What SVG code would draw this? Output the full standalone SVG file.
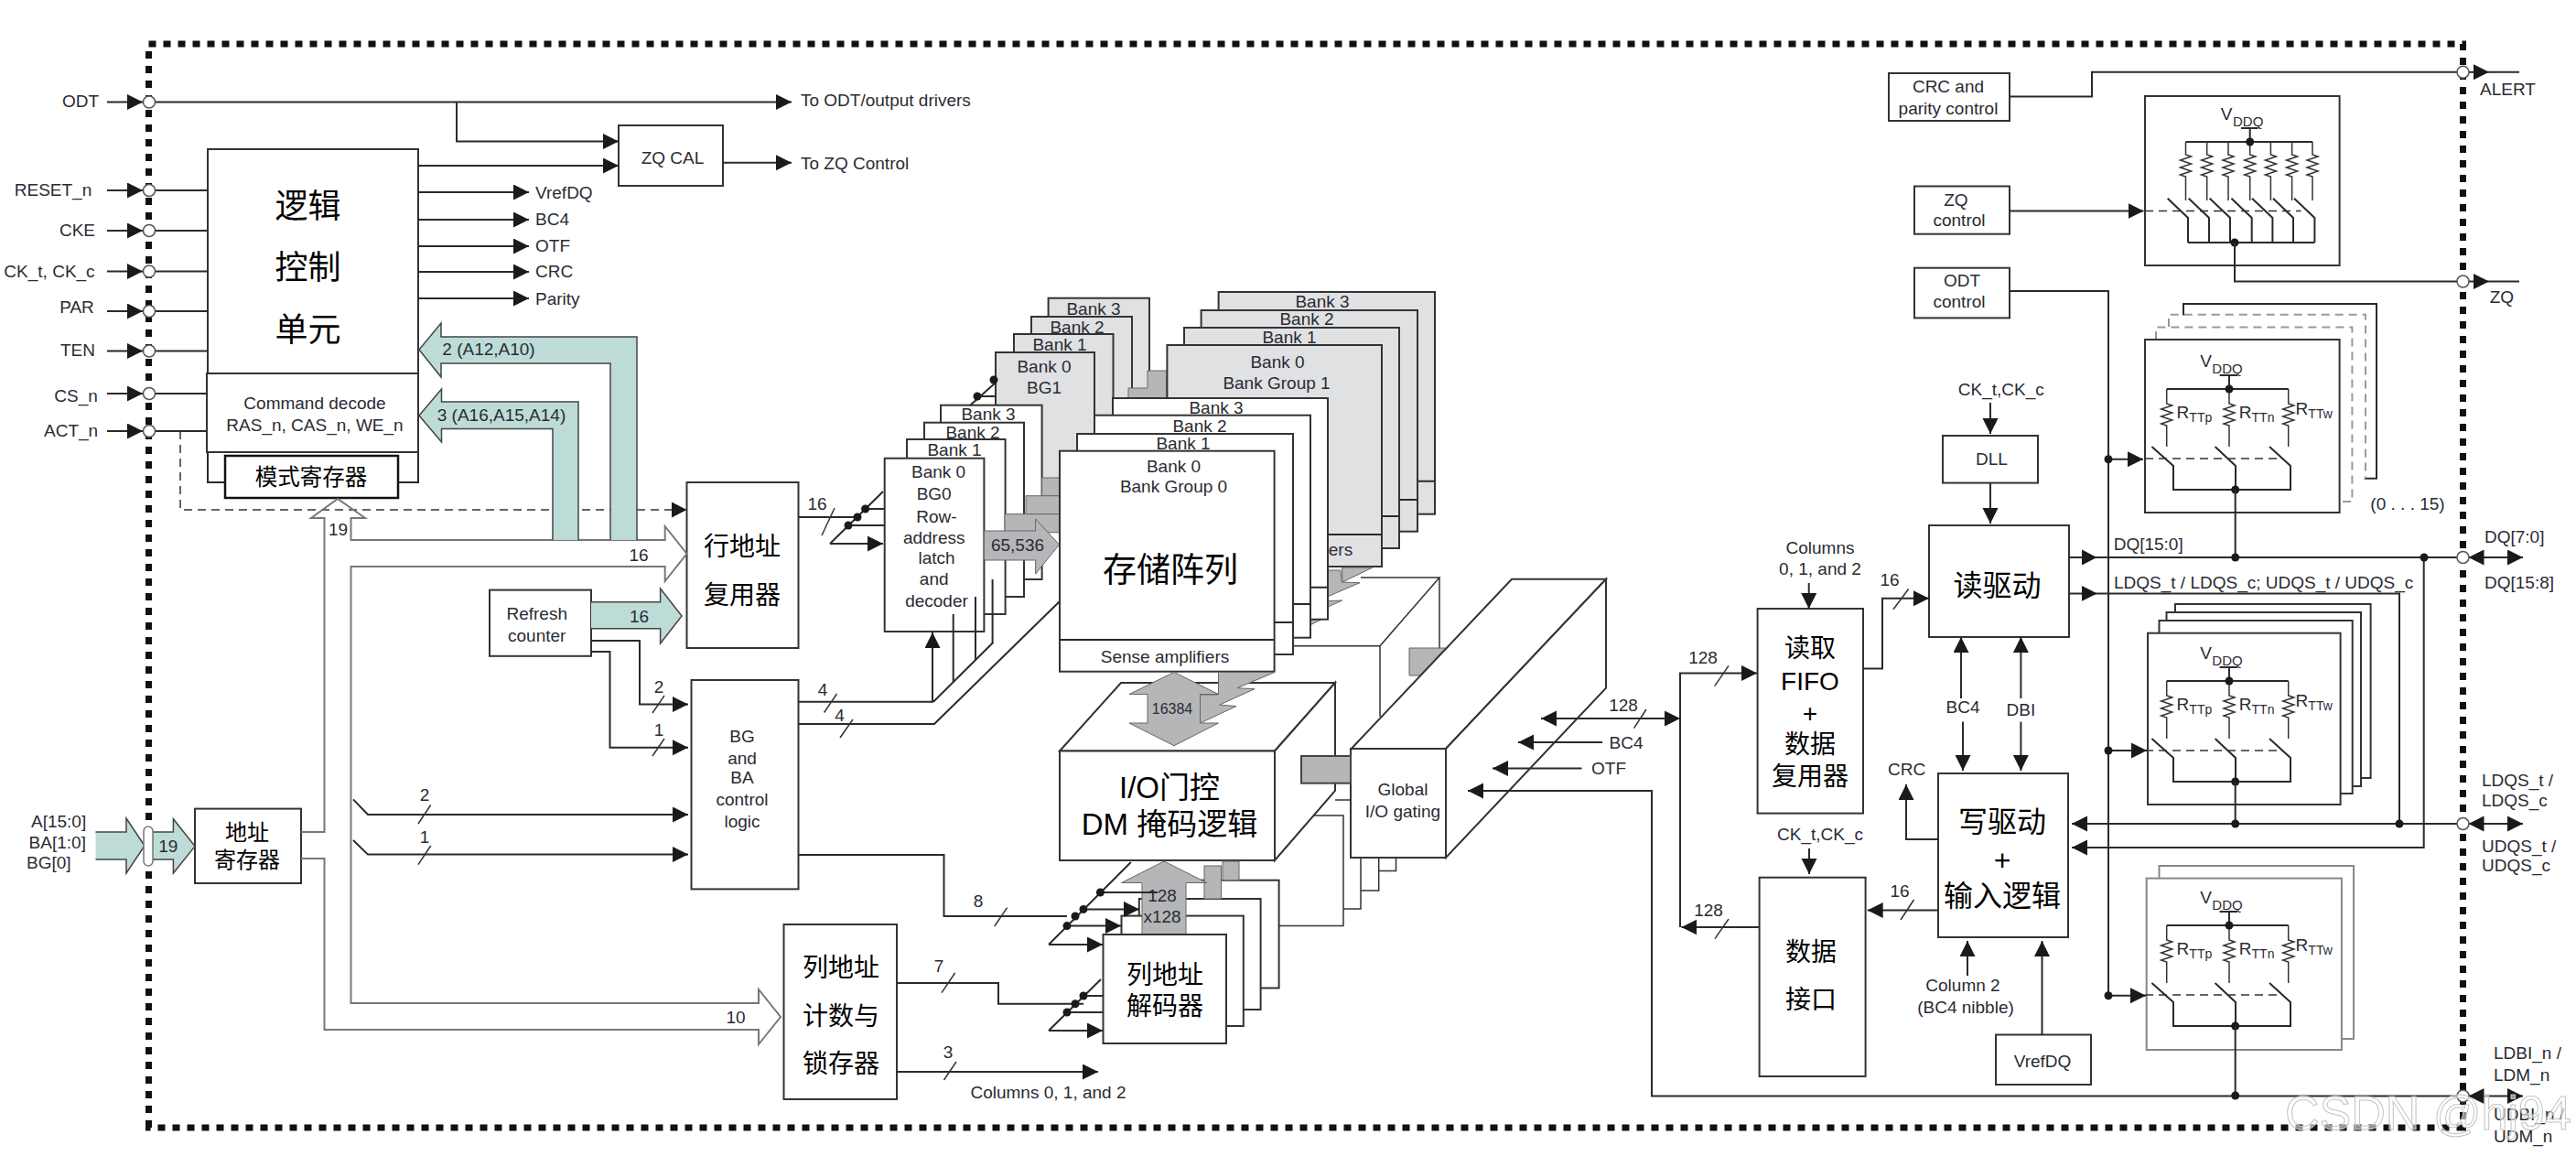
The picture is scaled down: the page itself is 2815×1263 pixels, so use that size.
<svg xmlns="http://www.w3.org/2000/svg" xmlns:xlink="http://www.w3.org/1999/xlink" width="2815" height="1263" viewBox="0 0 2815 1263">
<style>
text{font-family:"Liberation Sans","Noto Sans CJK SC",sans-serif;font-size:19px;fill:#2b2b33;dominant-baseline:central;text-anchor:middle}
.s{text-anchor:start}
.cn{fill:#000}
.c24{font-size:24.5px;fill:#000}
.c28{font-size:28px;fill:#000}
.c32{font-size:32px;fill:#000}
.c36{font-size:36px;fill:#000}
.n{fill:#fff;stroke:#333;stroke-width:2}
.g{fill:#e0e1e3;stroke:#333;stroke-width:2}
.k{fill:#b5b6b8;stroke:#666;stroke-width:1}
.l{fill:none;stroke:#2a2a2a;stroke-width:2}
.h{fill:none;stroke:#777;stroke-width:2}
.t{fill:none;stroke:#333;stroke-width:1.5}
.d{fill:none;stroke:#333;stroke-width:1.5;stroke-dasharray:9 6}
.da{fill:none;stroke:#999;stroke-width:2;stroke-dasharray:9 6}
.ar{marker-end:url(#a)}
.ar2{marker-end:url(#a);marker-start:url(#a)}
.green{fill:#bddcd8;stroke:#444;stroke-width:1.5}
.dot{fill:#1a1a1a}
.pin{fill:#fff;stroke:#555;stroke-width:1.5}
</style>
<defs>
<marker id="a" markerUnits="userSpaceOnUse" markerWidth="18" markerHeight="18" refX="17" refY="8.5" orient="auto-start-reverse"><path d="M0,0L17,8.5L0,17Z" fill="#1a1a1a"/></marker>
<path id="rz" d="M0,0V14l6,2l-12,4l12,4l-12,4l12,4l-12,4l6,2V64" class="t"/>
<path id="ro" d="M0,0V16l6,2l-12,4l12,4l-12,4l12,4l-12,4l6,2V63" class="t"/>
<g id="term">
<path class="l" d="M2425.6,410H2445M2436,410V425M2367.7,425H2500.7"/>
<use href="#ro" x="2367.7" y="425"/><use href="#ro" x="2436" y="425"/><use href="#ro" x="2500.7" y="425"/>
<path class="l" d="M2351.4,488L2375,509V535H2503V509L2480,488M2420.6,488L2443,509V535"/>
<path class="d" d="M2344,501H2492"/>
<circle class="dot" cx="2436" cy="425" r="4.5"/><circle class="dot" cx="2442.7" cy="535" r="4.5"/>
</g>
</defs>
<rect width="2815" height="1263" fill="#fff"/>
<g id="chip-boundary"><path d="M162.5,1232V48H2691.5V1232Z" fill="none" stroke="#111" stroke-width="7" stroke-dasharray="8 8"/></g>

<g id="io-gating-rear">
<path class="t" d="M1487,631H1573L1508,705.7M1400,705.7H1508V783M1573,631V708"/>
<path class="k" d="M1540,708H1580L1552,738H1540Z"/>
</g>
<g id="global-gating">
<path class="n" d="M1476.7,818L1652,632.7H1755L1580,818Z"/>
<path class="n" d="M1580,818L1755,632.7V751.7L1580,937Z"/>
<path class="t" d="M1487,937V993H1468M1506.7,937V973H1487M1525.5,937V951.4H1506.7"/>
<rect class="n" x="1476" y="818" width="104" height="119"/>
<text x="1533" y="862.5">Global</text><text x="1533" y="886">I/O gating</text>
</g>
<g id="bg1-latches">
<rect class="g" x="1145.6" y="325.7" width="110.4" height="205"/><text x="1195" y="337">Bank 3</text>
<rect class="g" x="1127" y="346" width="110" height="185"/><text x="1177" y="357">Bank 2</text>
<rect class="g" x="1108" y="365" width="108.5" height="165"/><text x="1158" y="376">Bank 1</text>
<rect class="g" x="1088" y="385" width="108" height="145"/><text x="1141" y="400">Bank 0</text><text x="1141" y="423">BG1</text>
</g>
<g id="bg1-shadow"><path class="k" d="M1254,405H1275V435H1233V424H1254Z"/></g>
<g id="bg1-arrays">
<rect class="g" x="1331.6" y="319" width="236.4" height="242.7"/><path class="l" d="M1331.6,525.7H1568"/><text x="1445" y="329">Bank 3</text>
<rect class="g" x="1312.6" y="339" width="236.4" height="241.7"/><path class="l" d="M1312.6,546H1549"/><text x="1428" y="348">Bank 2</text>
<rect class="g" x="1294" y="358" width="235" height="241"/><path class="l" d="M1294,564H1529"/><text x="1409" y="368">Bank 1</text>
<rect class="g" x="1275.4" y="377" width="234.6" height="242"/><path class="l" d="M1275.4,584H1510"/><text x="1396" y="395">Bank 0</text><text x="1395" y="418">Bank Group 1</text><text x="1465" y="600">ers</text>
</g>
<g id="array-shadows">
<path class="k" d="M1466.7,620H1500L1467,636Z"/>
<path class="k" d="M1451,623H1465L1466,636L1486,636.7L1451,651.7Z"/>
<path class="k" d="M1451,656.7L1466.7,656L1451,663Z"/>
<path class="k" d="M1432,676.7L1448,675L1432,682.7Z"/>
</g>
<g id="bg0-latches">
<rect class="n" x="1028" y="442.7" width="110.6" height="190.3"/><text x="1080" y="452.7">Bank 3</text>
<rect class="n" x="1010" y="461.7" width="109" height="190.3"/><text x="1063" y="472.7">Bank 2</text>
<rect class="n" x="991" y="480" width="107.6" height="191"/><text x="1043" y="491.7">Bank 1</text>
<rect class="n" x="966.7" y="500.7" width="108.7" height="189.3"/>
<text x="1025.6" y="515">Bank 0</text><text x="1020.7" y="539">BG0</text><text x="1023.5" y="564">Row-</text><text x="1020.7" y="587">address</text><text x="1023.5" y="609">latch</text><text x="1020.7" y="632.7">and</text><text x="1023.5" y="656">decoder</text>
</g>
<g id="row-arrow-65536">
<rect class="k" x="1138.6" y="522" width="20" height="20"/>
<rect class="k" x="1121" y="541.7" width="37" height="20"/>
<rect class="k" x="1098" y="561.7" width="60" height="20"/>
<path class="k" d="M1075.4,580H1131.6V567L1157.5,595L1131.6,627V612H1075.4Z"/>
<text x="1112" y="595">65,536</text>
</g>
<g id="bg0-arrays">
<rect class="n" x="1216" y="435" width="235" height="241.7"/><path class="l" d="M1216,641.7H1451"/><text x="1329" y="445">Bank 3</text>
<rect class="n" x="1196" y="453.7" width="236" height="243"/><path class="l" d="M1196,660H1432"/><text x="1311" y="465">Bank 2</text>
<rect class="n" x="1177" y="474" width="236" height="241"/><path class="l" d="M1177,680H1413"/><text x="1293" y="484">Bank 1</text>
<rect class="n" x="1158" y="492.7" width="234.6" height="241"/><path class="l" d="M1158,699H1392.6"/>
<text x="1282.5" y="509">Bank 0</text><text x="1282.5" y="531">Bank Group 0</text><text class="cn" x="1279" y="623" style="font-size:37px">存储阵列</text><text x="1273" y="717">Sense amplifiers</text>
</g>
<g id="io-gating-dm">
<path class="n" d="M1158,820.5L1225,746H1459L1393,820.5Z"/>
<path class="n" d="M1393,820.5L1459,746V864L1393,940Z"/>
<path class="t" d="M1459,874H1476M1436,891H1468V1011.6H1397.6"/>
<rect class="n" x="1158" y="820.5" width="235" height="119.5"/>
<text class="cn" x="1278" y="860" style="font-size:33px">I/O门控</text><text class="cn" x="1278" y="900" style="font-size:33px">DM 掩码逻辑</text>
<rect class="k" x="1422" y="826" width="54" height="29.7" style="stroke:#444;stroke-width:2"/>
</g>
<g id="arrow-16384">
<path class="k" d="M1331.5,734.4H1393L1352,751.7L1371,752.7L1332.7,770L1351,771.6L1311.5,790V759H1331.5Z"/>
<path class="k" d="M1283,734.4L1331.5,758.5H1311.5V790H1331.5L1283,814.7L1234,790H1254V758.5H1234Z"/>
<text x="1281" y="774.7" style="font-size:16px">16384</text>
</g>
<g id="column-decoders">
<rect class="n" x="1263" y="961.7" width="134.6" height="117.8"/>
<rect class="k" x="1336" y="941" width="18" height="20.7"/>
<rect class="n" x="1244.8" y="982" width="132.8" height="121"/>
<rect class="k" x="1316" y="946" width="18.5" height="36"/>
<rect class="n" x="1225.5" y="1000.6" width="133.3" height="120.4"/>
<path class="k" d="M1272,941L1319,964.5H1296V1021H1248V964.5H1225.5Z"/>
<text x="1270" y="978">128</text><text x="1270" y="1001.6">x128</text>
<rect class="n" x="1205.5" y="1021" width="134.5" height="119"/>
<text class="c28" x="1273" y="1065">列地址</text><text class="c28" x="1273" y="1099.5">解码器</text>
</g>

<g id="logic-control">
<rect class="n" x="227" y="163" width="230" height="245"/>
<text class="c36" x="336.5" y="225">逻辑</text><text class="c36" x="336.5" y="292">控制</text><text class="c36" x="336.5" y="360.6">单元</text>
</g>
<g id="command-decode">
<path class="l" d="M227,494V527H246M435,527H457V494"/>
<rect class="n" x="226" y="408" width="231" height="86"/>
<text x="344" y="440">Command decode</text><text x="344" y="464">RAS_n, CAS_n, WE_n</text>
</g>
<g id="mode-register"><rect x="246" y="498" width="189" height="46" fill="#fff" stroke="#111" stroke-width="2.5"/><text class="c24" x="340" y="521">模式寄存器</text></g>
<g id="zq-cal"><rect class="n" x="676" y="137" width="114" height="66"/><text x="735" y="172">ZQ CAL</text></g>
<g id="row-mux"><rect class="n" x="750.5" y="527" width="122" height="181"/><text class="c28" x="811" y="597">行地址</text><text class="c28" x="811" y="650">复用器</text></g>
<g id="refresh-counter"><rect class="n" x="535" y="644.6" width="111" height="72.2"/><text x="586.7" y="670">Refresh</text><text x="586.7" y="694">counter</text></g>
<g id="bg-ba-control"><rect class="n" x="755.5" y="743" width="117" height="228.4"/><text x="811" y="804.5">BG</text><text x="811" y="828">and</text><text x="811" y="849.6">BA</text><text x="811" y="873">control</text><text x="811" y="897">logic</text></g>
<g id="address-register"><rect class="n" x="213" y="883.6" width="116" height="81.4"/><text class="c24" x="270" y="909" style="font-size:24px">地址</text><text class="c24" x="270" y="939" style="font-size:24px">寄存器</text></g>
<g id="column-counter"><rect class="n" x="856.5" y="1010" width="123.5" height="191"/><text class="c28" x="919" y="1057">列地址</text><text class="c28" x="919" y="1110">计数与</text><text class="c28" x="919" y="1162">锁存器</text></g>
<g id="read-fifo"><rect class="n" x="1920.6" y="665" width="115.4" height="223.6"/><text class="c28" x="1978" y="708.7">读取</text><text class="c28" x="1978" y="744">FIFO</text><text class="c28" x="1978" y="779">+</text><text class="c28" x="1978" y="813.6">数据</text><text class="c28" x="1978" y="848">复用器</text></g>
<g id="data-interface"><rect class="n" x="1922.6" y="958.7" width="116" height="217.3"/><text class="c28" x="1979" y="1040">数据</text><text class="c28" x="1979" y="1092.6">接口</text></g>
<g id="read-driver"><rect class="n" x="2108" y="574" width="153" height="122"/><text class="c32" x="2182.6" y="639.5">读驱动</text></g>
<g id="write-driver"><rect class="n" x="2118" y="845" width="142" height="179"/><text class="c32" x="2188" y="898.4">写驱动</text><text class="c32" x="2188" y="939.5">+</text><text class="c32" x="2188" y="979">输入逻辑</text></g>
<g id="dll"><rect class="n" x="2123" y="476" width="104" height="51.6"/><text x="2176.4" y="501">DLL</text></g>
<g id="vrefdq-box"><rect class="n" x="2181" y="1130.5" width="104" height="54.5"/><text x="2232" y="1159">VrefDQ</text></g>
<g id="crc-parity"><rect class="n" x="2064" y="80" width="132" height="52"/><text x="2129" y="94.7">CRC and</text><text x="2129" y="118">parity control</text></g>
<g id="zq-control"><rect class="n" x="2092" y="203.5" width="104" height="52.2"/><text x="2137.4" y="218.7">ZQ</text><text x="2141" y="240">control</text></g>
<g id="odt-control"><rect class="n" x="2092" y="292.7" width="104" height="54.7"/><text x="2144" y="306">ODT</text><text x="2141" y="329.7">control</text></g>

<g id="zq-network">
<rect class="n" x="2344" y="105" width="212.6" height="185"/>
<text x="2433" y="124">V</text><text x="2456.7" y="132.5" style="font-size:15px">DDQ</text>
<path class="l" d="M2449,140H2467.6M2458.7,140V155M2388.5,155H2527"/>
<use href="#rz" x="2388.5" y="155"/><use href="#rz" x="2411.7" y="155"/><use href="#rz" x="2435" y="155"/><use href="#rz" x="2458.7" y="155"/><use href="#rz" x="2481.4" y="155"/><use href="#rz" x="2504.6" y="155"/><use href="#rz" x="2527" y="155"/>
<path class="l" d="M2368.7,216.8L2391,238V265M2391.7,216.8L2414,238V265M2414.7,216.8L2437,238V265M2438.4,216.8L2460.7,238V265M2461,216.8L2483.4,238V265M2484,216.8L2506,238V265M2507,216.8L2529.4,238V265M2391,265H2529.4"/>
<path class="d" d="M2344,230.5H2514.5"/>
<circle class="dot" cx="2458.7" cy="155" r="4.5"/><circle class="dot" cx="2442" cy="265" r="4.5"/>
</g>
<g id="odt-network-dq">
<path class="l" d="M2386,344.5V332H2597V522.8H2583.7"/>
<path class="da" d="M2370,357V343.7H2585V522.8"/>
<path class="da" d="M2356,371V357.4H2570.4V548H2556.6"/>
<rect class="n" x="2344" y="371" width="212.6" height="189"/>
<use href="#term"/>
<text x="2410.7" y="394">V</text><text x="2434" y="402.6" style="font-size:15px">DDQ</text>
<text class="s" x="2378.6" y="450">R<tspan dy="6" style="font-size:14px">TTp</tspan></text><text class="s" x="2446.8" y="450">R<tspan dy="6" style="font-size:14px">TTn</tspan></text><text class="s" x="2508.6" y="446">R<tspan dy="6" style="font-size:14px">TTw</tspan></text>
<text x="2631" y="550.5">(0 . . . 15)</text>
</g>
<g id="odt-network-dqs">
<rect class="n" x="2377" y="660" width="213.6" height="190"/>
<rect class="n" x="2367.5" y="669" width="212.5" height="190"/>
<rect class="n" x="2359.5" y="678" width="211.2" height="189"/>
<rect class="n" x="2347" y="691.7" width="210.6" height="187.3"/>
<use href="#term" y="319"/>
<text x="2410.7" y="713">V</text><text x="2434" y="721.6" style="font-size:15px">DDQ</text>
<text class="s" x="2378.6" y="769">R<tspan dy="6" style="font-size:14px">TTp</tspan></text><text class="s" x="2446.8" y="769">R<tspan dy="6" style="font-size:14px">TTn</tspan></text><text class="s" x="2508.6" y="765">R<tspan dy="6" style="font-size:14px">TTw</tspan></text>
</g>
<g id="odt-network-dm">
<rect x="2359.5" y="946" width="212.5" height="189" fill="#fff" stroke="#888" stroke-width="2"/>
<rect x="2345.7" y="959.6" width="213.2" height="187.4" fill="#fff" stroke="#888" stroke-width="2"/>
<use href="#term" y="586"/>
<text x="2410.7" y="980">V</text><text x="2434" y="988.6" style="font-size:15px">DDQ</text>
<text class="s" x="2378.6" y="1036">R<tspan dy="6" style="font-size:14px">TTp</tspan></text><text class="s" x="2446.8" y="1036">R<tspan dy="6" style="font-size:14px">TTn</tspan></text><text class="s" x="2508.6" y="1032">R<tspan dy="6" style="font-size:14px">TTw</tspan></text>
</g>

<g id="connectors">
<!-- left pins -->
<path class="l ar" d="M117,111.5H156"/><path class="l" d="M170,111.5H499"/><path class="l ar" d="M499,111.5H865"/>
<path class="l ar" d="M499,111.5V154.6H676"/>
<path class="l ar" d="M457,181H676"/>
<path class="l ar" d="M790,177.7H865"/>
<path class="l ar" d="M117,208H156"/><path class="l" d="M170,208H227"/>
<path class="l ar" d="M117,252H156"/><path class="l" d="M170,252H227"/>
<path class="l ar" d="M117,296.5H156"/><path class="l" d="M170,296.5H227"/>
<path class="l ar" d="M117,340H156"/><path class="l" d="M170,340H227"/>
<path class="l ar" d="M117,383.5H156"/><path class="l" d="M170,383.5H227"/>
<path class="l ar" d="M117,430H156"/><path class="l" d="M170,430H226"/>
<path class="l ar" d="M117,471H156"/><path class="l" d="M170,471H226"/>
<path class="l ar" d="M457,210H578"/><path class="l ar" d="M457,240H578"/><path class="l ar" d="M457,269H578"/><path class="l ar" d="M457,297H578"/><path class="l ar" d="M457,326H578"/>
<path class="d" d="M197,471V557H734"/><path d="M734,548.5L750.5,557L734,565.5Z" fill="#1a1a1a"/>
<!-- address buses -->
<path class="h" fill="#fff" d="M329,909H354.5V566H340L369,545L399,566H383.5V590H726.7V575L750.5,605L726.7,635V619H383.5V1096H829V1081L853,1111L829,1141V1125H354.5V938H329"/>
<path class="green" d="M696,590V368H482V353L458,382L482,412V397H667V590"/>
<path class="green" d="M632,590V439H482.5V425L458,454L482.5,483V468.5H604V590"/>
<path class="green" d="M646,657.7H721.6V643L745,673L721.6,703V686.8H646"/>
<path class="green" d="M104.5,909H138V894L158,924L138,954V939H104.5"/>
<path class="green" d="M167,909H189.4V894.7L213,924.6L189.4,954V939H167"/>
<rect x="157" y="903" width="10" height="43" rx="5" fill="#fff" stroke="#777" stroke-width="1.5"/>
<!-- row mux to latches -->
<path class="l" d="M872.6,565H937"/><path class="t" d="M912,555L898,585"/>
<path class="l" d="M965,537L907,594"/><path class="l" d="M945.6,556H966M927,574H966"/>
<path class="l ar" d="M907,594H965"/>
<path class="l" d="M1060,443L1088,418M1068,433H1088"/>
<!-- refresh -->
<path class="l ar" d="M646,700H699V769.6H752"/><path class="t" d="M726,760L713,779"/>
<path class="l ar" d="M646,712H666.5V816.8H752"/><path class="t" d="M726,807L713,826"/>
<path class="l ar" d="M386,873.4L402,890H752"/><path class="t" d="M470.7,879.5L457,900"/>
<path class="l ar" d="M386,918L402,933.6H752"/><path class="t" d="M470.7,924L457,944.7"/>
<!-- bg logic outputs -->
<path class="l" d="M872.6,766.7H1020"/><path class="l ar" d="M1019,766.7V691"/>
<path class="l" d="M1020,766.7L1085.5,701.7M1041.7,671V745M1066,652V720.8M1084.6,633V703"/>
<path class="t" d="M914.5,758L900.6,778.5M932,786L918,806"/>
<path class="l" d="M872.6,791H1021L1158,657"/>
<path class="l" d="M872.6,934H1031.5V1001H1166"/><path class="t" d="M1100.6,991.7L1086.7,1012"/>
<!-- column decoder inputs -->
<path class="l" d="M1235.8,942L1146,1032"/>
<path class="l ar" d="M1146,1032H1205"/><path class="l ar" d="M1166,1011.6H1225"/><path class="l ar" d="M1184,993.4H1245"/><path class="l" d="M1202.4,975H1265"/>
<path class="l" d="M1203,1070L1146,1126"/><path class="l ar" d="M1146,1126H1205"/><path class="l" d="M1184,1088H1205.5M1166,1106H1205.5"/>
<path class="l" d="M980,1074H1091V1096.7H1184"/><path class="t" d="M1043.6,1063L1029,1084.6"/>
<path class="l ar" d="M980,1171H1200"/><path class="t" d="M1045,1160L1031.5,1180"/>
<!-- global gating inputs -->
<path class="l ar2" d="M1684,785H1836"/><path class="t" d="M1799,775L1785.5,795.7"/>
<path class="l ar" d="M1751,811H1659"/><path class="l ar" d="M1728.5,839.5H1631"/>
<path class="l ar" d="M2691,1197.5H1805V864H1604"/>
<!-- fifo, data -->
<path class="l ar" d="M1836,785V735.4H1920"/><path class="t" d="M1889,727.4L1873.7,749.7"/>
<path class="l" d="M1836,785V1013"/><path class="l ar" d="M1922.6,1013H1837.4"/><path class="t" d="M1889,1004L1874,1025.6"/>
<path class="l ar" d="M1976.7,637V665"/>
<path class="l ar" d="M2036,730.5H2057V653.7H2108"/><path class="t" d="M2085.6,643.5L2069,665.8"/>
<path class="l ar" d="M1977,927V955"/>
<path class="l ar" d="M2118,994.4H2040.7"/><path class="t" d="M2091.5,983L2077,1005"/>
<path class="l ar" d="M2175,440V474"/><path class="l ar" d="M2175,527.6V572"/>
<path class="l ar" d="M2143,763V696"/><path class="l ar" d="M2145,788.6V842"/>
<path class="l ar" d="M2208.4,763V696"/><path class="l ar" d="M2208.4,788.6V842"/>
<path class="l ar" d="M2118,917H2083V857"/>
<path class="l ar" d="M2150,1066V1028"/><path class="l ar" d="M2231.5,1130.5V1028"/>
<!-- right side -->
<path class="l" d="M2196,105.5H2286V78.8H2685"/>
<path class="l" d="M2442,265V307.5H2685"/>
<path class="l ar" d="M2196,230.5H2342.5"/>
<path class="l" d="M2196,318H2304V1087.7"/>
<path class="l ar" d="M2304,501.7H2342"/><path class="l ar" d="M2304,820H2346"/><path class="l ar" d="M2304,1087.7H2345"/>
<path class="l" d="M2261,609H2685"/><path d="M2275,600.5L2291.6,609L2275,617.5Z" fill="#1a1a1a"/>
<path class="l" d="M2261,648.4H2622V900"/><path d="M2275,640L2291.6,648.4L2275,656.8Z" fill="#1a1a1a"/>
<path class="l" d="M2442.7,535V609M2442.7,854V900M2442.7,1120V1197"/>
<path class="l ar" d="M2685,900H2264"/>
<path class="l ar" d="M2648.7,609V926H2264"/>
<path class="l ar" d="M2698,78.8H2720"/><path class="l" d="M2720,78.8H2753"/>
<path class="l ar" d="M2698,307.5H2720"/><path class="l" d="M2720,307.5H2753"/>
<path class="l ar2" d="M2697.5,609H2757"/><path class="l ar2" d="M2697.5,900H2757"/><path class="l ar2" d="M2697.5,1197.5H2757"/>
<!-- dots -->
<g class="dot">
<circle cx="945.6" cy="556" r="4.5"/><circle cx="937" cy="565" r="4.5"/><circle cx="927" cy="574" r="4.5"/>
<circle cx="1086" cy="415" r="4.5"/><circle cx="1068" cy="433" r="4.5"/>
<circle cx="1202.4" cy="975" r="4.5"/><circle cx="1184" cy="993.4" r="4.5"/><circle cx="1175" cy="1001" r="4.5"/><circle cx="1166" cy="1011.6" r="4.5"/>
<circle cx="1184" cy="1088" r="4.5"/><circle cx="1175" cy="1096.7" r="4.5"/><circle cx="1166" cy="1106" r="4.5"/>
<circle cx="2304" cy="501.7" r="4.5"/><circle cx="2304" cy="820" r="4.5"/><circle cx="2304" cy="1087.7" r="4.5"/>
<circle cx="2442.7" cy="609" r="4.5"/><circle cx="2649" cy="609" r="4.5"/><circle cx="2442.7" cy="900" r="4.5"/><circle cx="2622" cy="900" r="4.5"/><circle cx="2442.7" cy="1197" r="4.5"/>
</g>
<!-- pins -->
<g class="pin">
<circle cx="163" cy="111.5" r="6.5"/><circle cx="163" cy="208" r="6.5"/><circle cx="163" cy="252" r="6.5"/><circle cx="163" cy="296.5" r="6.5"/><circle cx="163" cy="340" r="6.5"/><circle cx="163" cy="383.5" r="6.5"/><circle cx="163" cy="430" r="6.5"/><circle cx="163" cy="471" r="6.5"/>
<circle cx="2691.5" cy="78.8" r="6.5"/><circle cx="2691.5" cy="307.5" r="6.5"/><circle cx="2691.5" cy="609" r="6.5"/><circle cx="2691.5" cy="900" r="6.5"/><circle cx="2691.5" cy="1197.5" r="6.5"/>
</g>
<!-- connector labels -->
<text x="88" y="110">ODT</text><text x="58" y="207.6">RESET_n</text><text x="84.5" y="251">CKE</text><text x="54" y="296.6">CK_t, CK_c</text><text x="84" y="335">PAR</text><text x="85" y="382">TEN</text><text x="83" y="432">CS_n</text><text x="77.6" y="470">ACT_n</text>
<text class="s" x="875" y="109">To ODT/output drivers</text><text class="s" x="875" y="178">To ZQ Control</text>
<text class="s" x="585" y="210">VrefDQ</text><text class="s" x="585" y="239">BC4</text><text class="s" x="585" y="268">OTF</text><text class="s" x="585" y="296.6">CRC</text><text class="s" x="585" y="326">Parity</text>
<text x="534" y="381">2 (A12,A10)</text><text x="548" y="453">3 (A16,A15,A14)</text>
<text x="369.6" y="578">19</text><text x="698" y="606">16</text><text x="893" y="550">16</text><text x="698.6" y="673">16</text>
<text x="720" y="750">2</text><text x="720" y="797">1</text><text x="464" y="868.5">2</text><text x="464" y="914">1</text>
<text x="899" y="753">4</text><text x="917.6" y="781.6">4</text><text x="1069" y="984">8</text><text x="1026" y="1055.7">7</text><text x="1036" y="1149">3</text><text x="804" y="1111">10</text>
<text class="s" x="34" y="897">A[15:0]</text><text class="s" x="31.6" y="920.5">BA[1:0]</text><text class="s" x="29" y="942">BG[0]</text><text x="183.7" y="924.6">19</text>
<text x="1145.5" y="1193.5">Columns 0, 1, and 2</text>
<text x="1774" y="770.6">128</text><text x="1777" y="811">BC4</text><text x="1758" y="839.5">OTF</text>
<text x="1989" y="598">Columns</text><text x="1989" y="621.6">0, 1, and 2</text>
<text x="1861" y="718.5">128</text><text x="1867" y="994">128</text><text x="2065" y="633.7">16</text><text x="2076" y="973">16</text>
<text x="1989" y="911">CK_t,CK_c</text><text x="2186.8" y="425">CK_t,CK_c</text>
<text x="2145" y="772">BC4</text><text x="2208.4" y="775">DBI</text><text x="2083.6" y="840">CRC</text>
<text x="2145" y="1076.5">Column 2</text><text x="2148" y="1100">(BC4 nibble)</text>
<text x="2347.7" y="594">DQ[15:0]</text><text class="s" x="2310" y="636">LDQS_t / LDQS_c; UDQS_t / UDQS_c</text>
<text class="s" x="2710" y="97.7">ALERT</text><text class="s" x="2720.7" y="324">ZQ</text>
<text class="s" x="2715" y="586">DQ[7:0]</text><text class="s" x="2715" y="636">DQ[15:8]</text>
<text class="s" x="2712" y="852">LDQS_t /</text><text class="s" x="2712" y="874">LDQS_c</text><text class="s" x="2712" y="924">UDQS_t /</text><text class="s" x="2712" y="945">UDQS_c</text>
<text class="s" x="2725" y="1150">LDBI_n /</text><text class="s" x="2725" y="1174">LDM_n</text><text class="s" x="2725" y="1217">UDBI_n /</text><text class="s" x="2725" y="1241">UDM_n</text>
</g>
<g id="watermark"><text class="s" x="2497" y="1216" style="font-size:52px;fill:#fff;fill-opacity:.55;stroke:#c4c4c4;stroke-width:1">CSDN @hj94</text></g>
</svg>
